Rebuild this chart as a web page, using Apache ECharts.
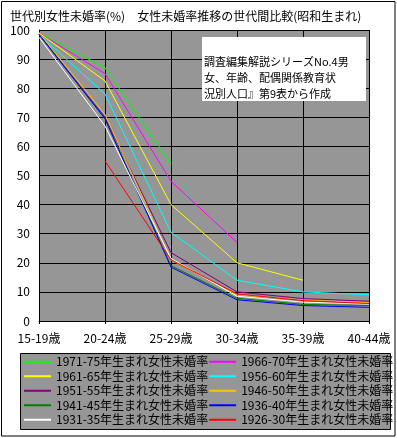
<!DOCTYPE html>
<html><head><meta charset="utf-8">
<script src="https://cdn.jsdelivr.net/npm/echarts@6/dist/echarts.min.js"></script>
<style>html,body{margin:0;padding:0;background:#fff}#c{width:397px;height:438px}</style>
</head><body><div id="c"></div>
<script>
const categories = ['15-19歳','20-24歳','25-29歳','30-34歳','35-39歳','40-44歳'];
const yTicks = [0,10,20,30,40,50,60,70,80,90,100];
const names = ['1971-75年生まれ女性未婚率','1966-70年生まれ女性未婚率','1961-65年生まれ女性未婚率','1956-60年生まれ女性未婚率','1951-55年生まれ女性未婚率','1946-50年生まれ女性未婚率','1941-45年生まれ女性未婚率','1936-40年生まれ女性未婚率','1931-35年生まれ女性未婚率','1926-30年生まれ女性未婚率'];
const s1971 = [99, 87, 54];
const s1966 = [99, 85, 48, 27];
const s1961 = [99, 82.5, 40, 20, 14];
const s1956 = [98.5, 78, 30.5, 14, 10, 9];
const s1951 = [98.5, 70, 23.5, 10, 7.7, 6.8];
const s1946 = [99, 71, 21, 9, 7.2, 6.3];
const s1941 = [98.5, 69.5, 19, 7.8, 5.7, 5.3];
const s1936 = [98.5, 69.5, 18.5, 7.3, 5.3, 4.7];
const s1931 = [97.5, 67, 21.5, 8.5, 6.5, 5.8];
const s1926 = [null, 55, 21, 9.3, 7, 6];
const seriesData = [s1971,s1966,s1961,s1956,s1951,s1946,s1941,s1936,s1931,s1926];
const colors = ['#00ff00','#ff00ff','#ffff00','#00ffff','#800080','#ffc000','#008000','#0000ff','#ffffff','#ff0000'];
const noteLines = ['調査編集解説シリーズNo.4男','女、年齢、配偶関係教育状','況別人口』第9表から作成'];
const titleText = '世代別女性未婚率(%)　女性未婚率推移の世代間比較(昭和生まれ)';

const FONT = '"Noto Sans CJK JP", sans-serif';
const chart = echarts.init(document.getElementById('c'), null, {renderer:'canvas'});
chart.setOption({
  animation:false,
  backgroundColor:'#fff',
  textStyle:{fontFamily:FONT},
  title:{text:titleText,left:5,top:5,textStyle:{fontSize:12,fontWeight:'normal',color:'#000',fontFamily:FONT}},
  grid:{left:39,right:28,top:30,bottom:117,show:true,backgroundColor:'#969696',borderWidth:0},
  xAxis:{type:'category',data:categories,boundaryGap:false,
    axisLine:{lineStyle:{color:'#000',width:1}},axisTick:{show:true,length:3,lineStyle:{color:'#000'}},
    axisLabel:{color:'#000',fontSize:12,margin:11,fontFamily:FONT},
    splitLine:{show:true,lineStyle:{color:'#000',width:1}}},
  yAxis:{type:'value',min:0,max:100,interval:10,
    axisLine:{show:true,lineStyle:{color:'#000',width:1}},axisTick:{show:false},
    axisLabel:{color:'#000',fontSize:12,margin:9,fontFamily:FONT},
    splitLine:{show:true,lineStyle:{color:'#000',width:1}}},
  legend:{data:names,left:24,top:355,width:380,padding:0,itemWidth:27,itemHeight:2,itemGap:1,icon:'rect',
    textStyle:{fontSize:12,color:'#000',width:148,lineHeight:13.5,fontFamily:FONT}},
  graphic:[
    {type:'rect',z:-1,shape:{x:20.5,y:353.5,width:370,height:76},style:{fill:'#969696',stroke:'#000',lineWidth:1}},
    {type:'rect',z:0,silent:true,shape:{x:1.5,y:1.5,width:393.5,height:434.5},style:{fill:'none',stroke:'#000',lineWidth:1}},
    {type:'rect',z:100,shape:{x:202,y:37,width:164,height:64},style:{fill:'#fff'}},
    {type:'text',z:101,left:204,top:54,style:{text:noteLines.join('\n'),fontSize:11,lineHeight:16,fill:'#000',fontFamily:FONT}}
  ],
  series:names.map((n,i)=>({name:n,type:'line',data:seriesData[i],symbol:'none',color:colors[i],
    lineStyle:{color:colors[i],width:1},connectNulls:false}))
});
</script></body></html>
